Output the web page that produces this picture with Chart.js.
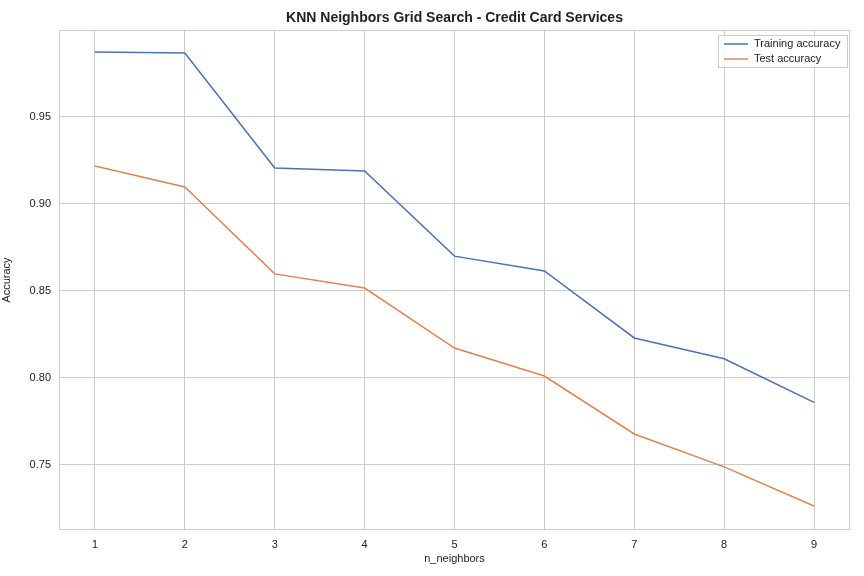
<!DOCTYPE html>
<html><head><meta charset="utf-8">
<script src="https://cdn.jsdelivr.net/npm/chart.js@4"></script>
<style>body{margin:0;background:#fff}#wrap{width:864px;height:576px}</style>
</head><body><div id="wrap"><canvas id="c"></canvas></div>
<script>
const neighbors = [1, 2, 3, 4, 5, 6, 7, 8, 9];
const trainAcc = [0.9874, 0.9868, 0.9207, 0.9190, 0.8700, 0.8615, 0.8230, 0.8110, 0.7860];
const testAcc = [0.9218, 0.9098, 0.8598, 0.8517, 0.8172, 0.8011, 0.7678, 0.7489, 0.7264];
const yTicks = [0.75, 0.80, 0.85, 0.90, 0.95];
const FONT = 'Liberation Sans, Arial, sans-serif';

const extras = {
  id: 'extras',
  afterDraw(chart) {
    const ctx = chart.ctx, a = chart.chartArea;
    ctx.save();
    ctx.strokeStyle = '#cccccc'; ctx.lineWidth = 1;
    ctx.strokeRect(a.left + 0.5, a.top + 0.5, a.right - a.left - 1, a.bottom - a.top - 1);
    ctx.fillStyle = '#222'; ctx.font = 'bold 14px ' + FONT; ctx.textAlign = 'center'; ctx.textBaseline = 'middle';
    ctx.fillText('KNN Neighbors Grid Search - Credit Card Services', (a.left + a.right) / 2, 18);
    // legend
    const lx = a.right - 132, ly = a.top + 5;
    ctx.fillStyle = 'rgba(255,255,255,0.85)'; ctx.strokeStyle = '#cccccc';
    ctx.fillRect(lx, ly, 130, 33); ctx.strokeRect(lx + 0.5, ly + 0.5, 129, 32);
    ctx.font = '11px ' + FONT; ctx.textAlign = 'left'; ctx.fillStyle = '#222';
    chart.data.datasets.forEach((d, i) => {
      const y = ly + 9 + i * 15;
      ctx.strokeStyle = d.borderColor; ctx.lineWidth = 1.5;
      ctx.beginPath(); ctx.moveTo(lx + 6, y); ctx.lineTo(lx + 30, y); ctx.stroke();
      ctx.fillStyle = '#222'; ctx.fillText(d.label, lx + 36, y);
    });
    ctx.restore();
  }
};

new Chart(document.getElementById('c'), {
  type: 'line',
  data: {
    datasets: [
      { label: 'Training accuracy', data: neighbors.map((n, i) => ({ x: n, y: trainAcc[i] })), borderColor: '#4c72b0', borderWidth: 1.5, pointRadius: 0, tension: 0 },
      { label: 'Test accuracy', data: neighbors.map((n, i) => ({ x: n, y: testAcc[i] })), borderColor: '#dd8452', borderWidth: 1.5, pointRadius: 0, tension: 0 }
    ]
  },
  options: {
    responsive: true, maintainAspectRatio: false, animation: false,
    layout: { padding: { left: 0, right: 14, top: 30, bottom: 0 } },
    plugins: { legend: { display: false }, tooltip: { enabled: false } },
    scales: {
      x: {
        type: 'linear', min: 0.6, max: 9.4,
        afterBuildTicks: s => { s.ticks = neighbors.map(v => ({ value: v })); },
        afterFit: s => { s.height = 46; },
        grid: { color: '#cccccc', drawTicks: false },
        border: { display: false },
        ticks: { color: '#222', font: { family: FONT, size: 11 }, padding: 8 },
        title: { display: true, text: 'n_neighbors', color: '#222', font: { family: FONT, size: 11 }, padding: { top: 0, bottom: 10 } }
      },
      y: {
        min: 0.7126, max: 1.0,
        afterBuildTicks: s => { s.ticks = yTicks.map(v => ({ value: v })); },
        afterFit: s => { s.width = 59; },
        grid: { color: '#cccccc', drawTicks: false },
        border: { display: false },
        ticks: { color: '#222', font: { family: FONT, size: 11 }, padding: 8, callback: v => v.toFixed(2) },
        title: { display: true, text: 'Accuracy', color: '#222', font: { family: FONT, size: 11 }, padding: { top: 0, bottom: 4 } }
      }
    }
  },
  plugins: [extras]
});
</script></body></html>
